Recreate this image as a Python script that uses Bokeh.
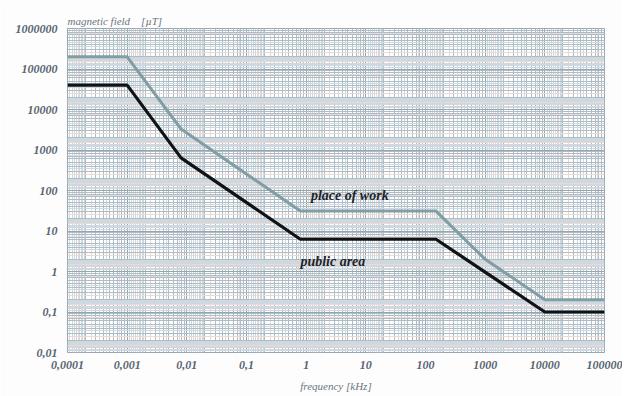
from bokeh.plotting import figure
from bokeh.models import Range1d, FixedTicker, Grid, CustomJSTickFormatter
from bokeh.core.properties import value
from bokeh.embed import file_html
from bokeh.resources import INLINE

# data (frequency in kHz, magnetic field in µT)
freq_work = [0.0001, 0.001, 0.008, 0.8, 150, 1000, 10000, 100000]
field_work = [200000, 200000, 3300, 31, 31, 2, 0.2, 0.2]
freq_public = [0.0001, 0.001, 0.008, 0.8, 150, 10000, 100000]
field_public = [40000, 40000, 640, 6.25, 6.25, 0.1, 0.1]
x_ticks = [0.0001, 0.001, 0.01, 0.1, 1, 10, 100, 1000, 10000, 100000]
y_ticks = [0.01, 0.1, 1, 10, 100, 1000, 10000, 100000, 1000000]

SERIF = "Liberation Serif"
LABEL_COLOR = "#5a6672"

p = figure(width=622, height=396, x_axis_type="log", y_axis_type="log",
           x_range=Range1d(1e-4, 1e5), y_range=Range1d(1e-2, 1e6),
           output_backend="svg", toolbar_location=None,
           min_border_left=67, min_border_right=18, min_border_top=28,
           min_border_bottom=44,
           title="magnetic field\u00a0\u00a0\u00a0\u00a0[µT]")
p.background_fill_color = "white"
p.border_fill_color = "#fdfdfe"
p.outline_line_color = "#97a5ae"
p.outline_line_width = 1

p.title.text_font = SERIF
p.title.text_font_style = "italic"
p.title.text_font_size = "11px"
p.title.text_color = "#6a7580"
p.title.align = "left"
p.title.standoff = 4

p.xgrid.grid_line_color = None
p.ygrid.grid_line_color = None

def decade_ticks(lo_exp, hi_exp, mantissas):
    out = []
    for e in range(lo_exp, hi_exp):
        for m in mantissas:
            out.append(m * 10.0 ** e)
    return out

fine_grey = [1.1, 1.2, 1.3, 1.4, 1.6, 1.7, 1.8, 1.9, 3.5, 4.5]
fine_pink = [1.5, 2.5, 7.5]
mid = [2, 3, 4, 5, 6, 7, 8, 9]

for dim, lo, hi in ((0, -4, 5), (1, -2, 6)):
    for ticks, color, alpha in ((decade_ticks(lo, hi, fine_pink), "#ecd9d3", 1.0),
                                (decade_ticks(lo, hi, fine_grey), "#cfd8de", 1.0),
                                (decade_ticks(lo, hi, mid), "#adbdc7", 1.0),
                                (decade_ticks(lo, hi + 1, [1]), "#95a6b0", 1.0)):
        g = Grid(dimension=dim, ticker=FixedTicker(ticks=ticks),
                 grid_line_color=color, grid_line_alpha=alpha, grid_line_width=1)
        p.add_layout(g)

fmt = CustomJSTickFormatter(code="return tick.toString().replace('.', ',');")
for ax, ticks in ((p.xaxis, x_ticks), (p.yaxis, y_ticks)):
    ax.ticker = FixedTicker(ticks=ticks, minor_ticks=[])
    ax.formatter = fmt
    ax.axis_line_color = None
    ax.major_tick_line_color = None
    ax.minor_tick_line_color = None
    ax.major_tick_out = 0
    ax.major_tick_in = 0
    ax.minor_tick_out = 0
    ax.minor_tick_in = 0
    ax.major_label_text_font = SERIF
    ax.major_label_text_font_style = "bold italic"
    ax.major_label_text_font_size = "12px"
    ax.major_label_text_color = LABEL_COLOR

p.xaxis.major_label_standoff = 8
p.yaxis.major_label_standoff = 10
p.xaxis.axis_label = "frequency [kHz]"
p.xaxis.axis_label_text_font = SERIF
p.xaxis.axis_label_text_font_style = "italic"
p.xaxis.axis_label_text_font_size = "11px"
p.xaxis.axis_label_text_color = "#6a7580"
p.xaxis.axis_label_standoff = 8

p.line(freq_work, field_work, line_color="#819ea5", line_width=3)
p.line(freq_public, field_public, line_color="#101214", line_width=3.2)

p.text(x=[1.2], y=[76], text=["place of work"], text_font=value(SERIF),
       text_font_style="bold italic", text_font_size="14px", text_color="#1e2228",
       text_baseline="middle", text_align="left")
p.text(x=[0.8], y=[1.8], text=["public area"], text_font=value(SERIF),
       text_font_style="bold italic", text_font_size="14px", text_color="#1e2228",
       text_baseline="middle", text_align="left")

open("out.html", "w").write(file_html(p, INLINE))
